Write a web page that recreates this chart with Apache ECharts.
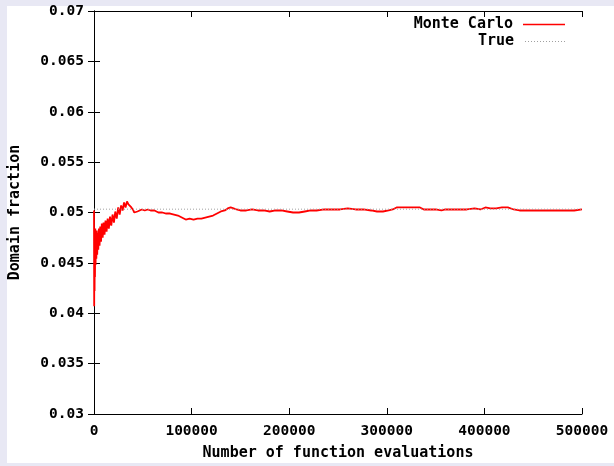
<!DOCTYPE html>
<html>
<head>
<meta charset="utf-8">
<script src="https://cdn.jsdelivr.net/npm/echarts@6/dist/echarts.min.js"></script>
<style>
  html, body { margin: 0; padding: 0; background: #e8e8f4; }
  #chart { width: 614px; height: 466px; }
</style>
</head>
<body>
<div id="chart"></div>
<script>
// Running Monte Carlo estimate of the domain fraction vs. number of evaluations
const evals = [
  0, 200, 400, 600, 800, 1000, 1300, 1600, 2000, 2400,
  2800, 3300, 3800, 4400, 5000, 5700, 6400, 7200, 8000, 8900,
  9800, 10800, 11800, 12900, 14000, 15200, 16400, 17700, 19000, 20400,
  21800, 23300, 24800, 26300, 27800, 29300, 30800, 32300, 33800, 35300,
  36800, 38300, 39800, 41300, 42800, 44500, 46500, 49000, 52000, 55000,
  58000, 62000, 66000, 70000, 74000, 78000, 82000, 86000, 90000, 94000,
  98000, 102000, 106000, 110000, 114000, 118000, 122000, 126000, 130000, 134000,
  137000, 140000, 143000, 146000, 150000, 156000, 162000, 168000, 174000, 180000,
  186000, 192000, 198000, 204000, 210000, 216000, 222000, 228000, 236000, 244000,
  252000, 260000, 268000, 276000, 284000, 290000, 296000, 302000, 306000, 310000,
  316000, 322000, 328000, 334000, 338000, 344000, 350000, 356000, 360000, 366000,
  374000, 382000, 390000, 396000, 401000, 406000, 412000, 418000, 424000, 430000,
  436000, 444000, 452000, 460000, 468000, 476000, 484000, 492000, 500000
];
const fraction = [
  0.0502, 0.0407, 0.0484, 0.0422, 0.0476, 0.0436, 0.0484, 0.0448, 0.0478, 0.0454,
  0.0482, 0.0458, 0.0480, 0.0463, 0.0484, 0.0467, 0.0486, 0.0471, 0.0489, 0.0475,
  0.0490, 0.0478, 0.0492, 0.0481, 0.0494, 0.0484, 0.0496, 0.0487, 0.0498, 0.0490,
  0.0501, 0.0494, 0.0505, 0.0498, 0.0507, 0.0502, 0.0510, 0.0505, 0.0511, 0.0508,
  0.0509, 0.0505, 0.0503, 0.0500, 0.0499, 0.0501, 0.0502, 0.0503, 0.0502, 0.0503,
  0.0502, 0.0502, 0.0500, 0.0500, 0.0499, 0.0499, 0.0498, 0.0497, 0.0495, 0.0493,
  0.0494, 0.0493, 0.0494, 0.0494, 0.0495, 0.0496, 0.0497, 0.0499, 0.0501, 0.0502,
  0.0504, 0.0505, 0.0504, 0.0503, 0.0502, 0.0502, 0.0503, 0.0502, 0.0502, 0.0501,
  0.0502, 0.0502, 0.0501, 0.0500, 0.0500, 0.0501, 0.0502, 0.0502, 0.0503, 0.0503,
  0.0503, 0.0504, 0.0503, 0.0503, 0.0502, 0.0501, 0.0501, 0.0502, 0.0503, 0.0505,
  0.0505, 0.0505, 0.0505, 0.0505, 0.0503, 0.0503, 0.0503, 0.0502, 0.0503, 0.0503,
  0.0503, 0.0503, 0.0504, 0.0503, 0.0505, 0.0504, 0.0504, 0.0505, 0.0505, 0.0503,
  0.0502, 0.0502, 0.0502, 0.0502, 0.0502, 0.0502, 0.0502, 0.0502, 0.0503
];
const trueValue = 0.05033;
const xRange = [0, 500000];
const xTickStep = 100000;
const yRange = [0.03, 0.07];
const yTickStep = 0.005;
const seriesNames = ['Monte Carlo', 'True'];
const xTitle = 'Number of function evaluations';
const yTitle = 'Domain fraction';

const FONT = 'DejaVu Sans Mono';
const tickText = { fontFamily: FONT, fontWeight: 'bold', fontSize: 14.5, color: '#000' };
const titleText = { fontFamily: FONT, fontWeight: 'bold', fontSize: 15, color: '#000' };

const mcData = evals.map((e, i) => [e, fraction[i]]);
const trueData = [[xRange[0], trueValue], [xRange[1], trueValue]];

// legend key shapes: a solid bar and a row of small dots
const solidKey = 'rect';
let dotPath = 'path://';
for (let i = 0; i < 14; i++) dotPath += 'M' + (i * 3) + ',0h1v1h-1z';

const axisLine = { show: true, lineStyle: { color: '#000', width: 1 } };
const tick = { show: true, inside: true, length: 6, lineStyle: { color: '#000', width: 1 } };

const chart = echarts.init(document.getElementById('chart'), null, { renderer: 'canvas' });
chart.setOption({
  animation: false,
  backgroundColor: '#e8e8f4',
  graphic: [{
    type: 'rect', z: -10, silent: true,
    shape: { x: 7, y: 6, width: 607, height: 457 },
    style: { fill: '#ffffff' }
  }],
  grid: { left: 94, right: 32, top: 11, bottom: 47, containLabel: false },
  legend: [
    {
      data: [seriesNames[0]], right: 49, top: 17, padding: 0, align: 'right',
      icon: solidKey, itemWidth: 42, itemHeight: 1.6,
      textStyle: Object.assign({ padding: [0, 5, 0, 0] }, titleText)
    },
    {
      data: [seriesNames[1]], right: 49, top: 34, padding: 0, align: 'right',
      icon: dotPath, itemWidth: 42, itemHeight: 1,
      textStyle: Object.assign({ padding: [0, 5, 0, 0] }, titleText)
    }
  ],
  xAxis: [
    {
      type: 'value', position: 'bottom', min: xRange[0], max: xRange[1], interval: xTickStep,
      axisLine, axisTick: tick, splitLine: { show: false },
      axisLabel: Object.assign({ margin: 10, formatter: v => String(v) }, tickText),
      name: xTitle, nameLocation: 'middle', nameGap: 32, nameTextStyle: titleText
    },
    {
      type: 'value', position: 'top', min: xRange[0], max: xRange[1], interval: xTickStep,
      axisLine, axisTick: tick, splitLine: { show: false }, axisLabel: { show: false }
    }
  ],
  yAxis: [
    {
      type: 'value', position: 'left', min: yRange[0], max: yRange[1], interval: yTickStep,
      axisLine, axisTick: tick, splitLine: { show: false },
      axisLabel: Object.assign({ margin: 10, formatter: v => String(+v.toFixed(3)) }, tickText),
      name: yTitle, nameLocation: 'middle', nameGap: 71, nameRotate: 90, nameTextStyle: titleText
    },
    {
      type: 'value', position: 'right', min: yRange[0], max: yRange[1], interval: yTickStep,
      axisLine, axisTick: tick, splitLine: { show: false }, axisLabel: { show: false }
    }
  ],
  series: [
    {
      name: seriesNames[0], type: 'line', data: mcData,
      xAxisIndex: 0, yAxisIndex: 0,
      symbol: 'none', showSymbol: false,
      lineStyle: { color: '#ff0000', width: 1.8 },
      itemStyle: { color: '#ff0000' }
    },
    {
      name: seriesNames[1], type: 'line', data: trueData,
      xAxisIndex: 0, yAxisIndex: 0,
      symbol: 'none', showSymbol: false,
      lineStyle: { color: '#a0a0a0', width: 1, type: [1, 2] },
      itemStyle: { color: '#a0a0a0' }
    }
  ]
});
</script>
</body>
</html>
